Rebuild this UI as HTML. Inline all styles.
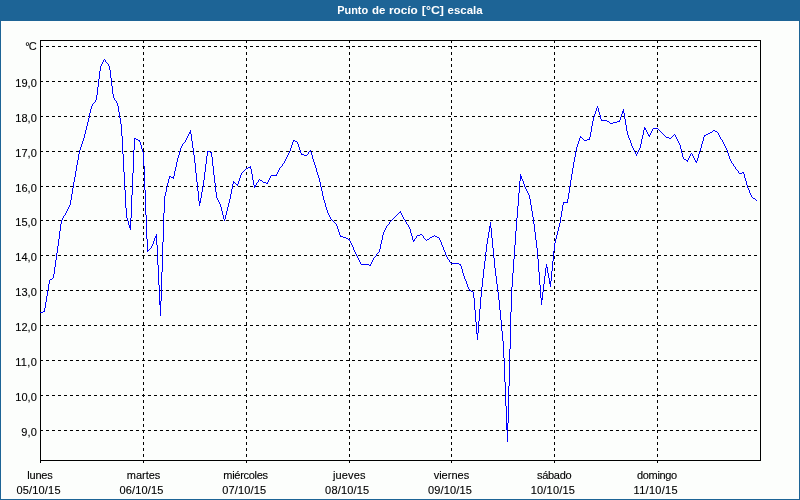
<!DOCTYPE html>
<html lang="es"><head><meta charset="utf-8"><title>Punto de rocío [°C] escala</title>
<style>
html,body{margin:0;padding:0;background:#1d6496;}
body{width:800px;height:500px;overflow:hidden;position:relative;font-family:"Liberation Sans",sans-serif;}
svg{position:absolute;left:0;top:0;display:block;}
text{font-family:"Liberation Sans",sans-serif;font-size:11px;fill:#000;stroke:#000;stroke-width:.12px;}
.t{font-weight:bold;fill:#fff;stroke:none;}
.g{stroke:#000;stroke-width:1;stroke-dasharray:3 3;fill:none;}
.f{stroke:#000;stroke-width:1;fill:none;}
</style></head><body>
<svg width="800" height="500" viewBox="0 0 800 500">
<rect x="0" y="0" width="800" height="500" fill="#1d6496"/>
<rect x="1" y="21" width="798" height="478" fill="#fcfefc"/>
<text class="t" y="14"><tspan x="337.2" textLength="31" lengthAdjust="spacingAndGlyphs">Punto</tspan> <tspan x="372" textLength="13.4" lengthAdjust="spacingAndGlyphs">de</tspan> <tspan x="389" textLength="28.8" lengthAdjust="spacingAndGlyphs">rocío</tspan> <tspan x="421.8" textLength="22.2" lengthAdjust="spacingAndGlyphs">[°C]</tspan> <tspan x="447.6" textLength="35" lengthAdjust="spacingAndGlyphs">escala</tspan></text>
<g shape-rendering="crispEdges">
<line class="g" x1="40" y1="46.5" x2="760" y2="46.5"/>
<line class="g" x1="40" y1="81.5" x2="760" y2="81.5"/>
<line class="g" x1="40" y1="116.5" x2="760" y2="116.5"/>
<line class="g" x1="40" y1="151.5" x2="760" y2="151.5"/>
<line class="g" x1="40" y1="186.5" x2="760" y2="186.5"/>
<line class="g" x1="40" y1="220.5" x2="760" y2="220.5"/>
<line class="g" x1="40" y1="255.5" x2="760" y2="255.5"/>
<line class="g" x1="40" y1="290.5" x2="760" y2="290.5"/>
<line class="g" x1="40" y1="325.5" x2="760" y2="325.5"/>
<line class="g" x1="40" y1="360.5" x2="760" y2="360.5"/>
<line class="g" x1="40" y1="395.5" x2="760" y2="395.5"/>
<line class="g" x1="40" y1="430.5" x2="760" y2="430.5"/>
<line class="g" x1="143.5" y1="40" x2="143.5" y2="460"/>
<line class="g" x1="246.5" y1="40" x2="246.5" y2="460"/>
<line class="g" x1="349.5" y1="40" x2="349.5" y2="460"/>
<line class="g" x1="451.5" y1="40" x2="451.5" y2="460"/>
<line class="g" x1="554.5" y1="40" x2="554.5" y2="460"/>
<line class="g" x1="657.5" y1="40" x2="657.5" y2="460"/>
<rect class="f" x="40.5" y="40.5" width="720" height="420"/>
<line class="f" x1="40.5" y1="460" x2="40.5" y2="463"/>
<line class="f" x1="143.5" y1="460" x2="143.5" y2="463"/>
<line class="f" x1="246.5" y1="460" x2="246.5" y2="463"/>
<line class="f" x1="349.5" y1="460" x2="349.5" y2="463"/>
<line class="f" x1="451.5" y1="460" x2="451.5" y2="463"/>
<line class="f" x1="554.5" y1="460" x2="554.5" y2="463"/>
<line class="f" x1="657.5" y1="460" x2="657.5" y2="463"/>
<path fill="#0000ff" d="M40 312h1v1h-1zM41 312h1v1h-1zM42 312h1v1h-1zM43 311h1v1h-1zM44 308h1v4h-1zM45 302h1v6h-1zM46 296h1v6h-1zM47 290h1v6h-1zM48 284h1v6h-1zM49 280h1v4h-1zM50 279h1v1h-1zM51 279h1v1h-1zM52 278h1v1h-1zM53 274h1v4h-1zM54 267h1v7h-1zM55 260h1v7h-1zM56 253h1v7h-1zM57 246h1v7h-1zM58 239h1v7h-1zM59 231h1v8h-1zM60 224h1v7h-1zM61 220h1v4h-1zM62 218h1v2h-1zM63 216h1v2h-1zM64 215h1v1h-1zM65 213h1v2h-1zM66 211h1v2h-1zM67 209h1v2h-1zM68 207h1v2h-1zM69 205h1v2h-1zM70 200h1v5h-1zM71 194h1v6h-1zM72 188h1v6h-1zM73 182h1v6h-1zM74 177h1v5h-1zM75 171h1v6h-1zM76 165h1v6h-1zM77 160h1v5h-1zM78 154h1v6h-1zM79 150h1v4h-1zM80 147h1v3h-1zM81 144h1v3h-1zM82 141h1v3h-1zM83 138h1v3h-1zM84 134h1v4h-1zM85 130h1v4h-1zM86 126h1v4h-1zM87 122h1v4h-1zM88 118h1v4h-1zM89 113h1v5h-1zM90 109h1v4h-1zM91 106h1v3h-1zM92 104h1v2h-1zM93 103h1v1h-1zM94 102h1v1h-1zM95 100h1v2h-1zM96 95h1v5h-1zM97 87h1v8h-1zM98 79h1v8h-1zM99 71h1v8h-1zM100 66h1v5h-1zM101 64h1v2h-1zM102 62h1v2h-1zM103 60h1v2h-1zM104 59h1v1h-1zM105 60h1v2h-1zM106 62h1v1h-1zM107 63h1v1h-1zM108 64h1v2h-1zM109 66h1v4h-1zM110 70h1v8h-1zM111 78h1v8h-1zM112 86h1v8h-1zM113 94h1v4h-1zM114 98h1v2h-1zM115 100h1v1h-1zM116 101h1v2h-1zM117 103h1v3h-1zM118 106h1v6h-1zM119 112h1v6h-1zM120 118h1v6h-1zM121 124h1v12h-1zM122 136h1v18h-1zM123 154h1v18h-1zM124 172h1v18h-1zM125 190h1v18h-1zM126 208h1v10h-1zM127 218h1v3h-1zM128 221h1v4h-1zM129 225h1v3h-1zM130 218h1v12h-1zM131 195h1v23h-1zM132 173h1v22h-1zM133 150h1v23h-1zM134 138h1v12h-1zM135 138h1v1h-1zM136 139h1v1h-1zM137 139h1v1h-1zM138 140h1v1h-1zM139 140h1v2h-1zM140 142h1v3h-1zM141 145h1v4h-1zM142 149h1v3h-1zM143 152h1v14h-1zM144 166h1v24h-1zM145 190h1v25h-1zM146 215h1v24h-1zM147 239h1v13h-1zM148 250h1v1h-1zM149 249h1v1h-1zM150 248h1v1h-1zM151 246h1v2h-1zM152 244h1v2h-1zM153 241h1v3h-1zM154 238h1v3h-1zM155 236h1v2h-1zM156 234h1v11h-1zM157 245h1v20h-1zM158 265h1v20h-1zM159 285h1v20h-1zM160 301h1v15h-1zM161 272h1v29h-1zM162 242h1v30h-1zM163 213h1v29h-1zM164 196h1v17h-1zM165 192h1v4h-1zM166 187h1v5h-1zM167 183h1v4h-1zM168 179h1v4h-1zM169 176h1v3h-1zM170 176h1v1h-1zM171 177h1v1h-1zM172 177h1v1h-1zM173 176h1v3h-1zM174 171h1v5h-1zM175 167h1v4h-1zM176 162h1v5h-1zM177 158h1v4h-1zM178 155h1v3h-1zM179 151h1v4h-1zM180 148h1v3h-1zM181 146h1v2h-1zM182 144h1v2h-1zM183 143h1v1h-1zM184 142h1v1h-1zM185 140h1v2h-1zM186 138h1v2h-1zM187 136h1v2h-1zM188 134h1v2h-1zM189 132h1v2h-1zM190 130h1v4h-1zM191 134h1v7h-1zM192 141h1v7h-1zM193 148h1v7h-1zM194 155h1v8h-1zM195 163h1v10h-1zM196 173h1v9h-1zM197 182h1v9h-1zM198 191h1v10h-1zM199 201h1v5h-1zM200 198h1v5h-1zM201 192h1v6h-1zM202 187h1v5h-1zM203 180h1v7h-1zM204 172h1v8h-1zM205 164h1v8h-1zM206 156h1v8h-1zM207 151h1v5h-1zM208 151h1v1h-1zM209 151h1v1h-1zM210 152h1v1h-1zM211 152h1v5h-1zM212 157h1v9h-1zM213 166h1v9h-1zM214 175h1v8h-1zM215 183h1v9h-1zM216 192h1v6h-1zM217 198h1v2h-1zM218 200h1v2h-1zM219 202h1v2h-1zM220 204h1v3h-1zM221 207h1v4h-1zM222 211h1v4h-1zM223 215h1v4h-1zM224 219h1v2h-1zM225 215h1v4h-1zM226 211h1v4h-1zM227 207h1v4h-1zM228 203h1v4h-1zM229 199h1v4h-1zM230 194h1v5h-1zM231 189h1v5h-1zM232 184h1v5h-1zM233 181h1v3h-1zM234 182h1v1h-1zM235 183h1v1h-1zM236 184h1v1h-1zM237 184h1v2h-1zM238 181h1v3h-1zM239 178h1v3h-1zM240 175h1v3h-1zM241 173h1v2h-1zM242 172h1v1h-1zM243 171h1v1h-1zM244 170h1v1h-1zM245 169h1v1h-1zM246 168h1v1h-1zM247 168h1v1h-1zM248 167h1v1h-1zM249 167h1v1h-1zM250 166h1v3h-1zM251 169h1v5h-1zM252 174h1v6h-1zM253 180h1v5h-1zM254 185h1v3h-1zM255 185h1v2h-1zM256 183h1v2h-1zM257 182h1v1h-1zM258 180h1v2h-1zM259 179h1v1h-1zM260 180h1v1h-1zM261 180h1v1h-1zM262 181h1v1h-1zM263 182h1v1h-1zM264 182h1v1h-1zM265 182h1v1h-1zM266 183h1v1h-1zM267 182h1v2h-1zM268 180h1v2h-1zM269 178h1v2h-1zM270 176h1v2h-1zM271 175h1v1h-1zM272 175h1v1h-1zM273 175h1v1h-1zM274 175h1v1h-1zM275 175h1v1h-1zM276 174h1v2h-1zM277 172h1v2h-1zM278 170h1v2h-1zM279 168h1v2h-1zM280 167h1v1h-1zM281 166h1v1h-1zM282 164h1v2h-1zM283 163h1v1h-1zM284 161h1v2h-1zM285 159h1v2h-1zM286 157h1v2h-1zM287 155h1v2h-1zM288 153h1v2h-1zM289 151h1v2h-1zM290 148h1v3h-1zM291 145h1v3h-1zM292 142h1v3h-1zM293 140h1v2h-1zM294 140h1v1h-1zM295 141h1v1h-1zM296 141h1v1h-1zM297 142h1v2h-1zM298 144h1v3h-1zM299 147h1v3h-1zM300 150h1v3h-1zM301 153h1v2h-1zM302 154h1v1h-1zM303 154h1v1h-1zM304 155h1v1h-1zM305 155h1v1h-1zM306 155h1v1h-1zM307 154h1v1h-1zM308 152h1v2h-1zM309 151h1v1h-1zM310 150h1v2h-1zM311 152h1v3h-1zM312 155h1v4h-1zM313 159h1v3h-1zM314 162h1v3h-1zM315 165h1v3h-1zM316 168h1v4h-1zM317 172h1v3h-1zM318 175h1v3h-1zM319 178h1v4h-1zM320 182h1v5h-1zM321 187h1v4h-1zM322 191h1v5h-1zM323 196h1v4h-1zM324 200h1v3h-1zM325 203h1v4h-1zM326 207h1v3h-1zM327 210h1v3h-1zM328 213h1v2h-1zM329 215h1v2h-1zM330 217h1v2h-1zM331 219h1v1h-1zM332 220h1v1h-1zM333 221h1v1h-1zM334 222h1v1h-1zM335 223h1v1h-1zM336 224h1v2h-1zM337 226h1v3h-1zM338 229h1v3h-1zM339 232h1v3h-1zM340 235h1v2h-1zM341 236h1v1h-1zM342 236h1v1h-1zM343 237h1v1h-1zM344 237h1v1h-1zM345 237h1v1h-1zM346 238h1v1h-1zM347 238h1v1h-1zM348 239h1v1h-1zM349 239h1v2h-1zM350 241h1v2h-1zM351 243h1v2h-1zM352 245h1v2h-1zM353 247h1v3h-1zM354 250h1v2h-1zM355 252h1v2h-1zM356 254h1v2h-1zM357 256h1v2h-1zM358 258h1v2h-1zM359 260h1v2h-1zM360 262h1v2h-1zM361 264h1v1h-1zM362 264h1v1h-1zM363 264h1v1h-1zM364 264h1v1h-1zM365 264h1v1h-1zM366 264h1v1h-1zM367 264h1v1h-1zM368 264h1v1h-1zM369 265h1v1h-1zM370 264h1v2h-1zM371 262h1v2h-1zM372 260h1v2h-1zM373 258h1v2h-1zM374 257h1v1h-1zM375 256h1v1h-1zM376 254h1v2h-1zM377 253h1v1h-1zM378 252h1v1h-1zM379 249h1v3h-1zM380 244h1v5h-1zM381 240h1v4h-1zM382 235h1v5h-1zM383 232h1v3h-1zM384 230h1v2h-1zM385 228h1v2h-1zM386 226h1v2h-1zM387 225h1v1h-1zM388 224h1v1h-1zM389 222h1v2h-1zM390 221h1v1h-1zM391 220h1v1h-1zM392 219h1v1h-1zM393 218h1v1h-1zM394 217h1v1h-1zM395 216h1v1h-1zM396 215h1v1h-1zM397 214h1v1h-1zM398 213h1v1h-1zM399 212h1v1h-1zM400 211h1v2h-1zM401 213h1v2h-1zM402 215h1v2h-1zM403 217h1v2h-1zM404 219h1v1h-1zM405 220h1v2h-1zM406 222h1v2h-1zM407 224h1v1h-1zM408 225h1v2h-1zM409 227h1v2h-1zM410 229h1v4h-1zM411 233h1v3h-1zM412 236h1v4h-1zM413 240h1v2h-1zM414 239h1v2h-1zM415 238h1v1h-1zM416 236h1v2h-1zM417 235h1v1h-1zM418 235h1v1h-1zM419 235h1v1h-1zM420 234h1v1h-1zM421 234h1v1h-1zM422 235h1v1h-1zM423 236h1v2h-1zM424 238h1v1h-1zM425 239h1v1h-1zM426 240h1v1h-1zM427 239h1v1h-1zM428 239h1v1h-1zM429 238h1v1h-1zM430 237h1v1h-1zM431 237h1v1h-1zM432 236h1v1h-1zM433 236h1v1h-1zM434 235h1v1h-1zM435 236h1v1h-1zM436 236h1v1h-1zM437 237h1v1h-1zM438 237h1v1h-1zM439 238h1v2h-1zM440 240h1v2h-1zM441 242h1v3h-1zM442 245h1v2h-1zM443 247h1v3h-1zM444 250h1v2h-1zM445 252h1v3h-1zM446 255h1v2h-1zM447 257h1v2h-1zM448 259h1v1h-1zM449 260h1v2h-1zM450 262h1v1h-1zM451 263h1v1h-1zM452 263h1v1h-1zM453 263h1v1h-1zM454 263h1v1h-1zM455 263h1v1h-1zM456 263h1v1h-1zM457 263h1v1h-1zM458 263h1v1h-1zM459 264h1v1h-1zM460 264h1v2h-1zM461 266h1v3h-1zM462 269h1v4h-1zM463 273h1v3h-1zM464 276h1v3h-1zM465 279h1v2h-1zM466 281h1v3h-1zM467 284h1v3h-1zM468 287h1v2h-1zM469 289h1v2h-1zM470 290h1v1h-1zM471 291h1v1h-1zM472 291h1v1h-1zM473 292h1v6h-1zM474 298h1v12h-1zM475 310h1v12h-1zM476 322h1v12h-1zM477 333h1v7h-1zM478 321h1v12h-1zM479 309h1v12h-1zM480 297h1v12h-1zM481 287h1v10h-1zM482 278h1v9h-1zM483 269h1v9h-1zM484 261h1v8h-1zM485 252h1v9h-1zM486 244h1v8h-1zM487 238h1v6h-1zM488 232h1v6h-1zM489 226h1v6h-1zM490 222h1v6h-1zM491 228h1v10h-1zM492 238h1v10h-1zM493 248h1v10h-1zM494 258h1v10h-1zM495 268h1v8h-1zM496 276h1v8h-1zM497 284h1v8h-1zM498 292h1v8h-1zM499 300h1v10h-1zM500 310h1v10h-1zM501 320h1v11h-1zM502 331h1v10h-1zM503 341h1v17h-1zM504 358h1v24h-1zM505 382h1v24h-1zM506 406h1v24h-1zM507 423h1v19h-1zM508 386h1v37h-1zM509 349h1v37h-1zM510 312h1v37h-1zM511 287h1v25h-1zM512 273h1v14h-1zM513 259h1v14h-1zM514 245h1v14h-1zM515 231h1v14h-1zM516 218h1v13h-1zM517 206h1v12h-1zM518 193h1v13h-1zM519 181h1v12h-1zM520 174h1v7h-1zM521 176h1v3h-1zM522 179h1v2h-1zM523 181h1v3h-1zM524 184h1v3h-1zM525 187h1v2h-1zM526 189h1v2h-1zM527 191h1v2h-1zM528 193h1v2h-1zM529 195h1v4h-1zM530 199h1v6h-1zM531 205h1v6h-1zM532 211h1v6h-1zM533 217h1v7h-1zM534 224h1v8h-1zM535 232h1v8h-1zM536 240h1v8h-1zM537 248h1v11h-1zM538 259h1v13h-1zM539 272h1v13h-1zM540 285h1v13h-1zM541 298h1v7h-1zM542 292h1v8h-1zM543 284h1v8h-1zM544 276h1v8h-1zM545 268h1v8h-1zM546 264h1v4h-1zM547 267h1v6h-1zM548 273h1v5h-1zM549 278h1v6h-1zM550 281h1v6h-1zM551 271h1v10h-1zM552 261h1v10h-1zM553 251h1v10h-1zM554 243h1v8h-1zM555 239h1v4h-1zM556 235h1v4h-1zM557 231h1v4h-1zM558 227h1v4h-1zM559 223h1v4h-1zM560 217h1v6h-1zM561 211h1v6h-1zM562 205h1v6h-1zM563 202h1v3h-1zM564 202h1v1h-1zM565 202h1v1h-1zM566 202h1v1h-1zM567 199h1v4h-1zM568 193h1v6h-1zM569 186h1v7h-1zM570 180h1v6h-1zM571 174h1v6h-1zM572 168h1v6h-1zM573 162h1v6h-1zM574 157h1v5h-1zM575 151h1v6h-1zM576 147h1v4h-1zM577 144h1v3h-1zM578 141h1v3h-1zM579 138h1v3h-1zM580 136h1v2h-1zM581 137h1v1h-1zM582 138h1v1h-1zM583 139h1v1h-1zM584 140h1v1h-1zM585 140h1v1h-1zM586 140h1v1h-1zM587 139h1v1h-1zM588 139h1v1h-1zM589 137h1v3h-1zM590 132h1v5h-1zM591 126h1v6h-1zM592 121h1v5h-1zM593 117h1v4h-1zM594 114h1v3h-1zM595 111h1v3h-1zM596 108h1v3h-1zM597 106h1v2h-1zM598 108h1v4h-1zM599 112h1v3h-1zM600 115h1v4h-1zM601 119h1v2h-1zM602 120h1v1h-1zM603 120h1v1h-1zM604 120h1v1h-1zM605 120h1v1h-1zM606 120h1v1h-1zM607 121h1v1h-1zM608 121h1v1h-1zM609 122h1v1h-1zM610 123h1v1h-1zM611 123h1v1h-1zM612 123h1v1h-1zM613 122h1v1h-1zM614 122h1v1h-1zM615 122h1v1h-1zM616 122h1v1h-1zM617 121h1v1h-1zM618 121h1v1h-1zM619 120h1v2h-1zM620 117h1v3h-1zM621 114h1v3h-1zM622 111h1v3h-1zM623 109h1v4h-1zM624 113h1v6h-1zM625 119h1v6h-1zM626 125h1v6h-1zM627 131h1v4h-1zM628 135h1v3h-1zM629 138h1v2h-1zM630 140h1v3h-1zM631 143h1v3h-1zM632 146h1v2h-1zM633 148h1v2h-1zM634 150h1v2h-1zM635 152h1v2h-1zM636 154h1v2h-1zM637 152h1v2h-1zM638 150h1v2h-1zM639 148h1v2h-1zM640 144h1v4h-1zM641 139h1v5h-1zM642 135h1v4h-1zM643 130h1v5h-1zM644 127h1v3h-1zM645 128h1v2h-1zM646 130h1v2h-1zM647 132h1v2h-1zM648 134h1v2h-1zM649 135h1v2h-1zM650 133h1v2h-1zM651 131h1v2h-1zM652 129h1v2h-1zM653 128h1v1h-1zM654 128h1v1h-1zM655 128h1v1h-1zM656 128h1v1h-1zM657 128h1v1h-1zM658 129h1v1h-1zM659 130h1v1h-1zM660 131h1v1h-1zM661 132h1v1h-1zM662 133h1v1h-1zM663 134h1v1h-1zM664 135h1v1h-1zM665 136h1v1h-1zM666 137h1v1h-1zM667 137h1v1h-1zM668 137h1v1h-1zM669 138h1v1h-1zM670 138h1v1h-1zM671 137h1v1h-1zM672 136h1v1h-1zM673 135h1v1h-1zM674 134h1v1h-1zM675 135h1v2h-1zM676 137h1v2h-1zM677 139h1v2h-1zM678 141h1v2h-1zM679 143h1v2h-1zM680 145h1v4h-1zM681 149h1v4h-1zM682 153h1v4h-1zM683 157h1v2h-1zM684 159h1v1h-1zM685 159h1v1h-1zM686 160h1v1h-1zM687 160h1v2h-1zM688 158h1v2h-1zM689 156h1v2h-1zM690 154h1v2h-1zM691 153h1v1h-1zM692 154h1v2h-1zM693 156h1v2h-1zM694 158h1v2h-1zM695 160h1v2h-1zM696 161h1v2h-1zM697 158h1v3h-1zM698 154h1v4h-1zM699 151h1v3h-1zM700 148h1v3h-1zM701 144h1v4h-1zM702 141h1v3h-1zM703 137h1v4h-1zM704 135h1v2h-1zM705 135h1v1h-1zM706 134h1v1h-1zM707 134h1v1h-1zM708 133h1v1h-1zM709 133h1v1h-1zM710 132h1v1h-1zM711 132h1v1h-1zM712 131h1v1h-1zM713 130h1v1h-1zM714 130h1v1h-1zM715 131h1v1h-1zM716 131h1v1h-1zM717 132h1v1h-1zM718 133h1v2h-1zM719 135h1v2h-1zM720 137h1v2h-1zM721 139h1v1h-1zM722 140h1v2h-1zM723 142h1v2h-1zM724 144h1v2h-1zM725 146h1v2h-1zM726 148h1v2h-1zM727 150h1v3h-1zM728 153h1v3h-1zM729 156h1v3h-1zM730 159h1v2h-1zM731 161h1v2h-1zM732 163h1v1h-1zM733 164h1v2h-1zM734 166h1v1h-1zM735 167h1v2h-1zM736 169h1v1h-1zM737 170h1v1h-1zM738 171h1v2h-1zM739 173h1v1h-1zM740 173h1v1h-1zM741 173h1v1h-1zM742 172h1v1h-1zM743 172h1v2h-1zM744 174h1v4h-1zM745 178h1v3h-1zM746 181h1v4h-1zM747 185h1v3h-1zM748 188h1v2h-1zM749 190h1v3h-1zM750 193h1v2h-1zM751 195h1v2h-1zM752 197h1v1h-1zM753 198h1v1h-1zM754 198h1v1h-1zM755 199h1v1h-1zM756 200h1v1h-1z"/>
</g>
<text x="36.8" y="50" text-anchor="end" textLength="11.6">°C</text>
<text x="36.8" y="87" text-anchor="end" textLength="21.6">19,0</text>
<text x="36.8" y="122" text-anchor="end" textLength="21.6">18,0</text>
<text x="36.8" y="157" text-anchor="end" textLength="21.6">17,0</text>
<text x="36.8" y="192" text-anchor="end" textLength="21.6">16,0</text>
<text x="36.8" y="226" text-anchor="end" textLength="21.6">15,0</text>
<text x="36.8" y="261" text-anchor="end" textLength="21.6">14,0</text>
<text x="36.8" y="296" text-anchor="end" textLength="21.6">13,0</text>
<text x="36.8" y="331" text-anchor="end" textLength="21.6">12,0</text>
<text x="36.8" y="366" text-anchor="end" textLength="21.6">11,0</text>
<text x="36.8" y="401" text-anchor="end" textLength="21.6">10,0</text>
<text x="36.8" y="436" text-anchor="end" textLength="15.6">9,0</text>
<text x="40.0" y="479" text-anchor="middle" textLength="25.5">lunes</text>
<text x="38.5" y="494" text-anchor="middle" textLength="44">05/10/15</text>
<text x="143.5" y="479" text-anchor="middle" textLength="33.5">martes</text>
<text x="141.4" y="494" text-anchor="middle" textLength="44">06/10/15</text>
<text x="245.7" y="479" text-anchor="middle" textLength="44.7">miércoles</text>
<text x="244.2" y="494" text-anchor="middle" textLength="44">07/10/15</text>
<text x="349.2" y="479" text-anchor="middle" textLength="32.5">jueves</text>
<text x="347.1" y="494" text-anchor="middle" textLength="44">08/10/15</text>
<text x="451.4" y="479" text-anchor="middle" textLength="35.5">viernes</text>
<text x="449.9" y="494" text-anchor="middle" textLength="44">09/10/15</text>
<text x="554.3" y="479" text-anchor="middle" textLength="34.5">sábado</text>
<text x="552.8" y="494" text-anchor="middle" textLength="44">10/10/15</text>
<text x="657.1" y="479" text-anchor="middle" textLength="40">domingo</text>
<text x="655.6" y="494" text-anchor="middle" textLength="44">11/10/15</text>
</svg></body></html>
